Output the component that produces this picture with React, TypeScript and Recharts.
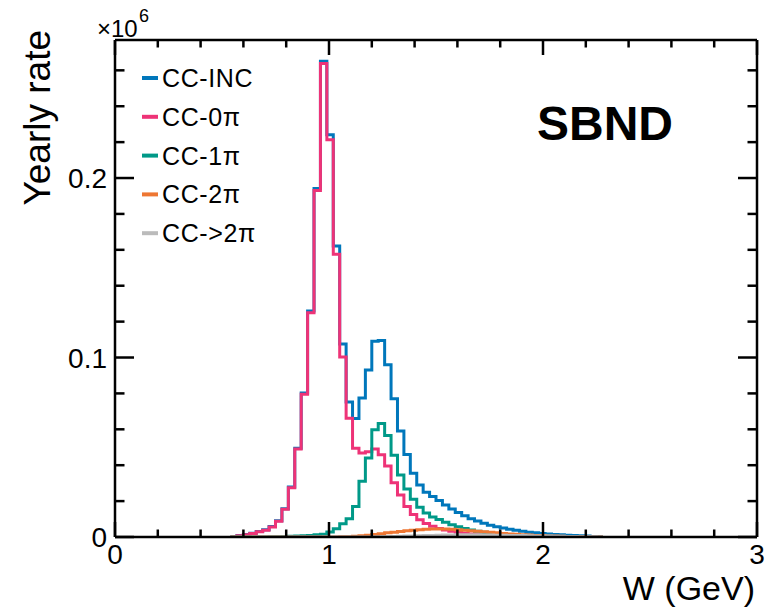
import React from 'react';
import { LineChart, Line, XAxis, YAxis, ReferenceLine } from 'recharts';

// Bin lower edges of W (GeV), 0.03 GeV bins; last entry closes the outline
const binLow = [
  0.54, 0.57, 0.6, 0.63, 0.66, 0.69, 0.72, 0.75, 0.78, 0.81,
  0.84, 0.87, 0.9, 0.93, 0.96, 0.99, 1.02, 1.05, 1.08, 1.11,
  1.14, 1.17, 1.2, 1.23, 1.26, 1.29, 1.32, 1.35, 1.38, 1.41,
  1.44, 1.47, 1.5, 1.53, 1.56, 1.59, 1.62, 1.65, 1.68, 1.71,
  1.74, 1.77, 1.8, 1.83, 1.86, 1.89, 1.92, 1.95, 1.98, 2.01,
  2.04, 2.07, 2.1, 2.13, 2.16, 2.19, 2.22, 2.25, 2.28,
];

// Yearly rate (x10^6)
const ccInc = [
  0, 0.0008, 0.0014, 0.0021, 0.003, 0.004, 0.0058, 0.009, 0.0158, 0.0279,
  0.0495, 0.0802, 0.1259, 0.1942, 0.2651, 0.2241, 0.1621, 0.1075, 0.0752, 0.066,
  0.0775, 0.093, 0.109, 0.1095, 0.096, 0.077, 0.059, 0.046, 0.0355, 0.029,
  0.025, 0.0225, 0.0203, 0.0178, 0.0156, 0.0136, 0.0118, 0.0102, 0.0089, 0.0077,
  0.0066, 0.0057, 0.005, 0.0043, 0.0037, 0.0032, 0.0027, 0.0023, 0.002, 0.0017,
  0.0014, 0.0012, 0.001, 0.0008, 0.0007, 0.0005, 0.0003, 0, 0,
];
const cc0pi = [
  0, 0.0007, 0.0013, 0.002, 0.0029, 0.0038, 0.0056, 0.0088, 0.0155, 0.0275,
  0.049, 0.0795, 0.125, 0.193, 0.2638, 0.2213, 0.1575, 0.1003, 0.0662, 0.0495,
  0.0468, 0.0475, 0.049, 0.0458, 0.0395, 0.0302, 0.0234, 0.017, 0.0125, 0.0096,
  0.0075, 0.006, 0.0048, 0.0039, 0.0032, 0.0026, 0.0021, 0.0017, 0.0014, 0.0011,
  0.0009, 0.0007, 0.0006, 0.0005, 0.0004, 0.0003, 0.0003, 0.0002, 0.0002, 0.0001,
  0.0001, 0, 0, 0, 0, 0, 0, 0, 0,
];
const cc1pi = [
  0, 0, 0, 0, 0, 0, 0.0001, 0.0002, 0.0003, 0.0004,
  0.0005, 0.0007, 0.0009, 0.0012, 0.0016, 0.0028, 0.0046, 0.0074, 0.0102, 0.017,
  0.031, 0.044, 0.0598, 0.0632, 0.0566, 0.0455, 0.0345, 0.0268, 0.021, 0.0166,
  0.0134, 0.0112, 0.0098, 0.0082, 0.0068, 0.0057, 0.0047, 0.0039, 0.0032, 0.0026,
  0.0021, 0.0017, 0.0014, 0.0011, 0.0009, 0.0007, 0.0006, 0.0005, 0.0004, 0.0003,
  0.0002, 0.0002, 0.0001, 0.0001, 0, 0, 0, 0, 0,
];
const cc2pi = [
  0, 0, 0, 0, 0, 0, 0, 0, 0, 0,
  0, 0, 0, 0, 0, 0, 0, 0.0001, 0.0002, 0.0004,
  0.0007, 0.001, 0.0014, 0.0018, 0.0023, 0.0027, 0.0031, 0.0035, 0.0038, 0.0041,
  0.0043, 0.0044, 0.0045, 0.0044, 0.0043, 0.0041, 0.0038, 0.0035, 0.0032, 0.0029,
  0.0026, 0.0023, 0.002, 0.0017, 0.0015, 0.0013, 0.0011, 0.0009, 0.0008, 0.0006,
  0.0005, 0.0004, 0.0003, 0.0002, 0.0001, 0, 0, 0, 0,
];
const ccGt2pi = [
  0, 0, 0, 0, 0, 0, 0, 0, 0, 0,
  0, 0, 0, 0, 0, 0, 0, 0, 0, 0,
  0, 0, 0.0001, 0.0002, 0.0002, 0.0003, 0.0004, 0.0005, 0.0006, 0.0007,
  0.0008, 0.0009, 0.001, 0.0011, 0.0011, 0.0012, 0.0012, 0.0012, 0.0012, 0.0011,
  0.0011, 0.001, 0.001, 0.0009, 0.0008, 0.0008, 0.0007, 0.0006, 0.0006, 0.0005,
  0.0004, 0.0004, 0.0003, 0.0003, 0.0002, 0.0002, 0.0001, 0, 0,
];

const seriesNames = ['CC-INC', 'CC-0\u03c0', 'CC-1\u03c0', 'CC-2\u03c0', 'CC->2\u03c0'];
const seriesKeys = ['inc', 'zero', 'one', 'two', 'more'];
const seriesColors = ['#0077BB', '#EE3377', '#009988', '#EE7733', '#BBBBBB'];

const xTicks = [0, 0.2, 0.4, 0.6, 0.8, 1, 1.2, 1.4, 1.6, 1.8, 2, 2.2, 2.4, 2.6, 2.8, 3];
const xMajor = [0, 1, 2, 3];
const xMajorLabels = ['0', '1', '2', '3'];
const yTicks = [0, 0.02, 0.04, 0.06, 0.08, 0.1, 0.12, 0.14, 0.16, 0.18, 0.2, 0.22, 0.24, 0.26];
const yMajor = [0, 0.1, 0.2];
const yMajorLabels = ['0', '0.1', '0.2'];

const X_MIN = 0;
const X_MAX = 3;
const Y_MIN = 0;
const Y_MAX = 0.2769;

const data = binLow.map((w, i) => ({
  w,
  inc: ccInc[i],
  zero: cc0pi[i],
  one: cc1pi[i],
  two: cc2pi[i],
  more: ccGt2pi[i],
}));

const FONT = '"Liberation Sans", Arial, Helvetica, sans-serif';
const W = 765;
const H = 609;
const M = { top: 40, right: 8, left: 0, bottom: 0 };
const Y_AXIS_W = 115;
const X_AXIS_H = 72;
const PLOT_L = M.left + Y_AXIS_W;
const PLOT_T = M.top;
const PLOT_W = W - M.right - PLOT_L;
const PLOT_H = H - M.top - X_AXIS_H;
const PLOT_B = PLOT_T + PLOT_H;
const PLOT_R = PLOT_L + PLOT_W;

// same linear mapping as the chart's axes (used for the inward frame ticks)
const sx = (v: number) => PLOT_L + ((v - X_MIN) / (X_MAX - X_MIN)) * PLOT_W;
const sy = (v: number) => PLOT_T + ((Y_MAX - v) / (Y_MAX - Y_MIN)) * PLOT_H;

const X_TICK_MAJOR = 15;
const Y_TICK_MAJOR = 19;

const majorIndex = (v: number, majors: number[]) =>
  majors.findIndex((m) => Math.abs(m - v) < 1e-6);

const BottomTick = (props: any) => {
  const { x, y, payload } = props;
  const idx = majorIndex(payload.value, xMajor);
  if (idx < 0) return <g />;
  return (
    <text x={x} y={y + 27} textAnchor="middle" fontSize={28} fontFamily={FONT} fill="#000">
      {xMajorLabels[idx]}
    </text>
  );
};

const LeftTick = (props: any) => {
  const { x, y, payload } = props;
  const idx = majorIndex(payload.value, yMajor);
  if (idx < 0) return <g />;
  return (
    <text x={x - 8} y={y + 10} textAnchor="end" fontSize={28} fontFamily={FONT} fill="#000">
      {yMajorLabels[idx]}
    </text>
  );
};

const axisLine = { stroke: '#000', strokeWidth: 2.5 };

export default function App() {
  const tickLines: { k: string; x1: number; y1: number; x2: number; y2: number }[] = [];
  xTicks.forEach((t, i) => {
    const len = majorIndex(t, xMajor) >= 0 ? X_TICK_MAJOR : X_TICK_MAJOR / 2;
    tickLines.push({ k: `xb${i}`, x1: sx(t), y1: PLOT_B, x2: sx(t), y2: PLOT_B - len });
    tickLines.push({ k: `xt${i}`, x1: sx(t), y1: PLOT_T, x2: sx(t), y2: PLOT_T + len });
  });
  yTicks.forEach((t, i) => {
    const len = majorIndex(t, yMajor) >= 0 ? Y_TICK_MAJOR : Y_TICK_MAJOR / 2;
    tickLines.push({ k: `yl${i}`, x1: PLOT_L, y1: sy(t), x2: PLOT_L + len, y2: sy(t) });
    tickLines.push({ k: `yr${i}`, x1: PLOT_R, y1: sy(t), x2: PLOT_R - len, y2: sy(t) });
  });

  return (
    <div style={{ position: 'absolute', left: 0, top: 0, width: W, height: H, background: '#fff' }}>
      <LineChart width={W} height={H} data={data} margin={M}>
        {seriesKeys.map((k, i) => (
          <Line
            key={k}
            type="stepAfter"
            dataKey={k}
            name={seriesNames[i]}
            stroke={seriesColors[i]}
            strokeWidth={3}
            dot={false}
            activeDot={false}
            isAnimationActive={false}
          />
        ))}
        <XAxis
          dataKey="w"
          type="number"
          domain={[X_MIN, X_MAX]}
          allowDataOverflow
          ticks={xTicks}
          interval={0}
          height={X_AXIS_H}
          tickSize={0}
          tickMargin={0}
          tickLine={false}
          axisLine={axisLine}
          tick={BottomTick}
        />
        <YAxis
          type="number"
          domain={[Y_MIN, Y_MAX]}
          allowDataOverflow
          ticks={yTicks}
          interval={0}
          width={Y_AXIS_W}
          tickSize={0}
          tickMargin={0}
          tickLine={false}
          axisLine={axisLine}
          tick={LeftTick}
        />
        <ReferenceLine y={Y_MAX} stroke="#000" strokeWidth={2.5} ifOverflow="visible" />
        <ReferenceLine x={X_MAX} stroke="#000" strokeWidth={2.5} ifOverflow="visible" />
      </LineChart>
      <svg
        width={W}
        height={H}
        style={{ position: 'absolute', left: 0, top: 0, pointerEvents: 'none' }}
        fontFamily={FONT}
      >
        {tickLines.map((l) => (
          <line key={l.k} x1={l.x1} y1={l.y1} x2={l.x2} y2={l.y2} stroke="#000" strokeWidth={2.5} />
        ))}
        <text transform="translate(50,30) rotate(-90)" textAnchor="end" fontSize={37} fill="#000">
          Yearly rate
        </text>
        <text x={97} y={37} fontSize={24} fill="#000">
          {'\u00d710'}
        </text>
        <text x={139} y={22} fontSize={18} fill="#000">
          6
        </text>
        <text x={755} y={600} textAnchor="end" fontSize={34} fill="#000">
          W (GeV)
        </text>
        <text x={537} y={140} fontSize={48} fontWeight="bold" fill="#000">
          SBND
        </text>
        {seriesNames.map((n, i) => {
          const cy = 78 + 38.8 * i;
          return (
            <g key={n}>
              <line x1={142} y1={cy} x2={158} y2={cy} stroke={seriesColors[i]} strokeWidth={4} />
              <text x={162} y={cy + 9} fontSize={25} letterSpacing={0.6} fill="#000">
                {n}
              </text>
            </g>
          );
        })}
      </svg>
    </div>
  );
}
